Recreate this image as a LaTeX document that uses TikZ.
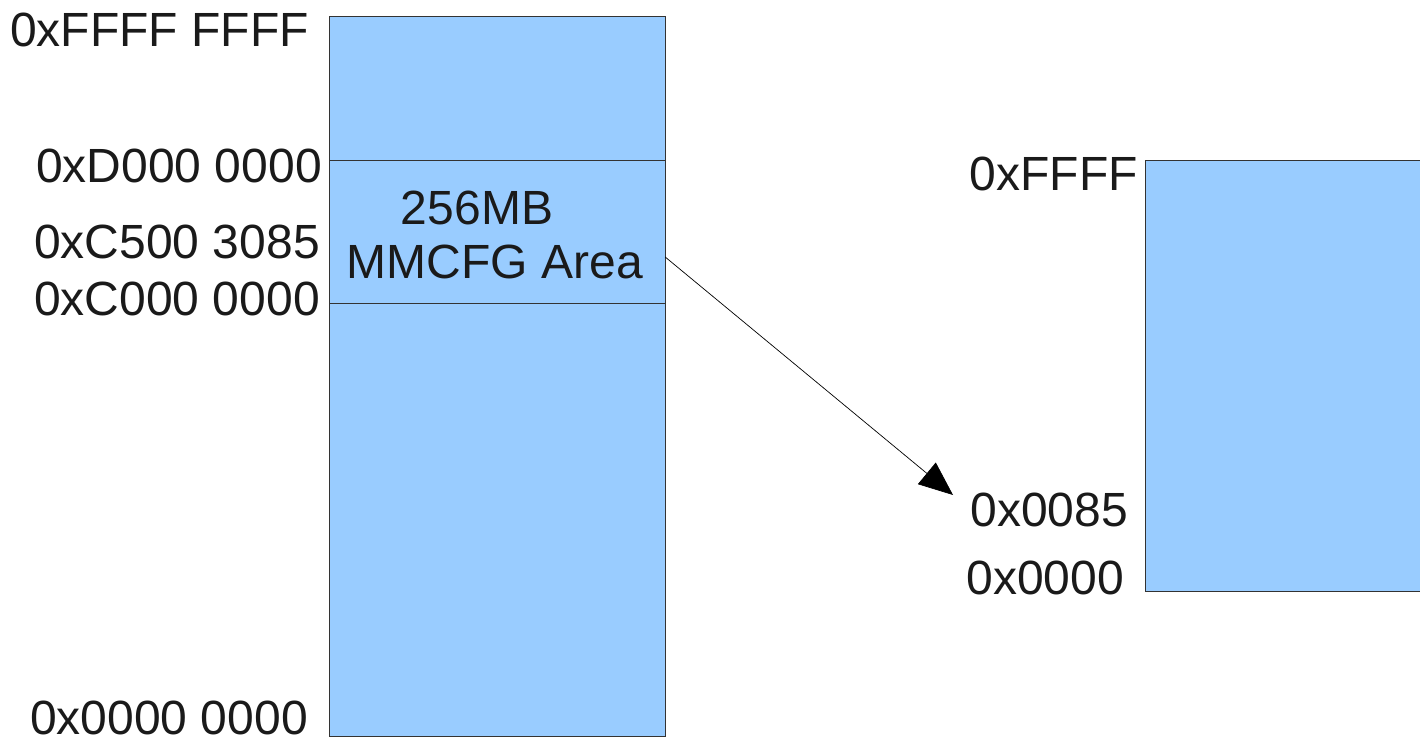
\documentclass[tikz,border=0pt]{standalone}
\usepackage{fontspec}
\setmainfont{Liberation Sans}
\usetikzlibrary{arrows.meta}
\definecolor{memfill}{HTML}{99CCFF}
\definecolor{memline}{HTML}{333333}
\definecolor{labeltext}{HTML}{1A1A1A}
\begin{document}
\begin{tikzpicture}[x=1pt,y=-1pt,
  region/.style={fill=memfill,draw=memline,line width=0.9pt},
  addr/.style={anchor=east,inner sep=0pt,text=labeltext,font=\fontsize{48}{54}\selectfont},
  note/.style={inner sep=0pt,text=labeltext,font=\fontsize{48}{54}\selectfont},
  link/.style={draw=black,line width=0.7pt,-{Triangle[length=34pt,width=28pt]}}]
\useasboundingbox (0,0) rectangle (1420,743);

% system address space
\path[region] (329,16) rectangle (665,736);
\path[region] (329,160) rectangle (665,303);
\node[minimum width=336pt,minimum height=143pt,inner sep=0pt] (mmcfg) at (497,231.5) {};

\node[addr] (top)  at (309,30)  {0xFFFF FFFF};
\node[addr] (d000) at (322,166) {0xD000 0000};
\node[addr] (c5)   at (320,242) {0xC500 3085};
\node[addr] (c000) at (320,299) {0xC000 0000};
\node[addr] (zero) at (308,718) {0x0000 0000};

\node[note] (size) at (477,208) {256MB};
\node[note] (area) at (495,262) {MMCFG Area};

% configuration space of one function
\path[region] (1145,160) rectangle (1440,591);
\node[addr] (ftop)  at (1138,174) {0xFFFF};
\node[addr] (f85)   at (1128,510) {0x0085};
\node[addr] (fzero) at (1124,578) {0x0000};

\coordinate (src) at (mmcfg.east |- 0,257);
\coordinate (dst) at (953,495);
\draw[link] (src) -- (dst);
\end{tikzpicture}
\end{document}
